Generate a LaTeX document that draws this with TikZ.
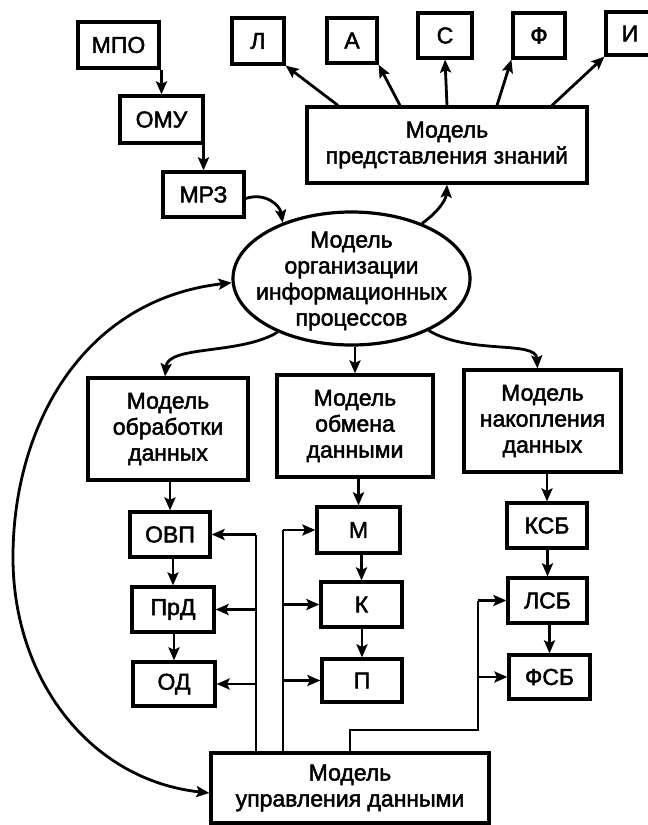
\documentclass[tikz,border=0pt]{standalone}
\usepackage{fontspec}
\setmainfont{Liberation Sans}[FakeBold=2]
\usetikzlibrary{arrows.meta,shapes.geometric}
\begin{document}
\begin{tikzpicture}[x=1pt,y=-1pt,
  txt/.style={font=\fontsize{23}{26}\selectfont, align=center, inner sep=0pt},
  blk/.style={draw, line width=3.2pt, txt},
  ln/.style={line width=2.8pt, line join=miter},
  arr/.style={ln, -{Stealth[length=13pt,width=11pt,inset=2.5pt]}},
  darr/.style={ln, {Stealth[length=13pt,width=11pt,inset=2.5pt]}-{Stealth[length=13pt,width=11pt,inset=2.5pt]}}]
\useasboundingbox (0,0) rectangle (648,825);
\fill[white] (0,0) rectangle (648,825);
\begin{scope}
\clip (0,0) rectangle (648,825);
% top-left chain
\node[blk, minimum width=81pt, minimum height=46pt] (mpo) at (118.5,45) {МПО};
\node[blk, minimum width=83pt, minimum height=47pt] (omu) at (161.5,119.5) {ОМУ};
\node[blk, minimum width=81pt, minimum height=45pt] (mrz) at (203.5,194.5) {МРЗ};
% top row
\node[blk, minimum width=52pt, minimum height=46pt] (l) at (258,41) {Л};
\node[blk, minimum width=50pt, minimum height=45pt] (a) at (352,40.5) {А};
\node[blk, minimum width=54pt, minimum height=45pt] (s) at (445,35.5) {С};
\node[blk, minimum width=52pt, minimum height=45pt] (f) at (539,35.5) {Ф};
\node[blk, minimum width=48pt, minimum height=43pt] (i) at (630,33.5) {И};
\node[blk, minimum width=280pt, minimum height=76pt] (mpz) at (447,145) {Модель\\представления знаний};
% ellipse
\node[draw, ellipse, line width=3.2pt, inner sep=0pt, minimum width=237pt, minimum height=133pt] (org) at (351.5,278.5) {};
\node[txt] (orgt) at (351.5,281) {Модель\\организации\\информационных\\процессов};
% middle row
\node[blk, minimum width=160pt, minimum height=102pt] (obr) at (168,429) {Модель\\обработки\\данных};
\node[blk, minimum width=156pt, minimum height=102pt] (obm) at (355,426) {Модель\\обмена\\данными};
\node[blk, minimum width=157pt, minimum height=102pt] (nak) at (542.5,421) {Модель\\накопления\\данных};
% columns
\node[blk, minimum width=80pt, minimum height=45pt] (ovp) at (170,534.5) {ОВП};
\node[blk, minimum width=82pt, minimum height=45pt] (prd) at (173,609.5) {ПрД};
\node[blk, minimum width=82pt, minimum height=44pt] (od) at (174,684) {ОД};
\node[blk, minimum width=83pt, minimum height=46pt] (m) at (358.5,530) {М};
\node[blk, minimum width=81pt, minimum height=45pt] (k) at (361.5,604.5) {К};
\node[blk, minimum width=80pt, minimum height=43pt] (p) at (362,680.5) {П};
\node[blk, minimum width=80pt, minimum height=45pt] (ksb) at (547,525.5) {КСБ};
\node[blk, minimum width=79pt, minimum height=45pt] (lsb) at (547.5,600.5) {ЛСБ};
\node[blk, minimum width=81pt, minimum height=44pt] (fsb) at (549.5,677) {ФСБ};
\node[blk, minimum width=278pt, minimum height=70pt] (upr) at (350,788) {Модель\\управления данными};
% coordinates
\coordinate (trL) at (256,753);
\coordinate (trR) at (283,753);
\coordinate (rc) at (478,730);
% top connectors
\draw[arr] (omu.north |- mpo.south) -- (omu.north);
\draw[arr] (mrz.north |- omu.south) -- (mrz.north);
\draw[arr] ([yshift=-4pt]mrz.east) .. controls (265,192) and (280,205) .. (org.141);
\draw[arr] (org.38) .. controls (438,212) and (446,200) .. (mpz.south);
\draw[arr] ([xshift=-109pt]mpz.north) -- (l.south east);
\draw[arr] ([xshift=-47pt]mpz.north) -- (a.south east);
\draw[arr] (mpz.north) -- (s.south);
\draw[arr] ([xshift=50pt]mpz.north) -- (f.south west);
\draw[arr] ([xshift=105pt]mpz.north) -- (i.south west);
% ellipse to middle
\draw[arr] (org.216) .. controls (240,355) and (168,345) .. ([xshift=-3pt]obr.north);
\draw[arr] (org.south -| obm.north) -- (obm.north);
\draw[arr] (org.326) .. controls (470,355) and (536,340) .. ([xshift=-5pt]nak.north);
% long curve
\draw[darr] (org.182) .. controls (80,300) and (12,430) .. (13,560) .. controls (14,680) and (90,780) .. ([yshift=-5pt]upr.west);
% columns
\draw[arr] (ovp.north |- obr.south) -- (ovp.north);
\draw[arr] (prd.north |- ovp.south) -- (prd.north);
\draw[arr] (od.north |- prd.south) -- (od.north);
\draw[arr] (m.north |- obm.south) -- (m.north);
\draw[arr] (k.north |- m.south) -- (k.north);
\draw[arr] (p.north |- k.south) -- (p.north);
\draw[arr] (ksb.north |- nak.south) -- (ksb.north);
\draw[arr] (lsb.north |- ksb.south) -- (lsb.north);
\draw[arr] (fsb.north |- lsb.south) -- (fsb.north);
% trunks
\draw[ln] (trL) -- (trL |- ovp.east);
\draw[arr] (trL |- ovp.east) -- (ovp.east);
\draw[arr] (trL |- prd.east) -- (prd.east);
\draw[arr] (trL |- od.east) -- (od.east);
\draw[ln] (trR) -- (trR |- m.west);
\draw[arr] (trR |- m.west) -- (m.west);
\draw[arr] (trR |- k.west) -- (k.west);
\draw[arr] (trR |- p.west) -- (p.west);
\draw[ln] (upr.north) -- (upr.north |- rc) -- (rc) -- (rc |- lsb.west);
\draw[arr] (rc |- lsb.west) -- (lsb.west);
\draw[arr] (rc |- fsb.west) -- (fsb.west);
\end{scope}
\end{tikzpicture}
\end{document}
